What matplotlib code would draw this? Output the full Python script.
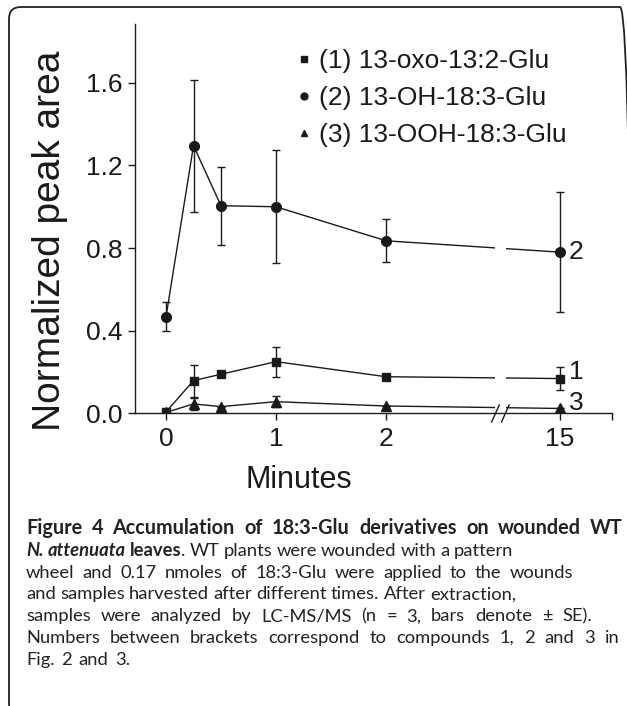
import numpy as np
import matplotlib
matplotlib.use('Agg')
import matplotlib.pyplot as plt
from matplotlib.lines import Line2D
from matplotlib.patches import FancyBboxPatch

plt.rcParams['font.family'] = ['Liberation Sans', 'DejaVu Sans']

# 데이터
minutes = [0, 0.25, 0.5, 1, 2, 15]
tick_minutes = [0, 1, 2, 15]

oxo_mean = [0.005, 0.157, 0.188, 0.249, 0.176, 0.167]
oxo_err = [0.0, 0.077, 0.008, 0.073, 0.008, 0.057]

oh_mean = [0.467, 1.296, 1.005, 1.0, 0.835, 0.78]
oh_err = [0.07, 0.32, 0.19, 0.275, 0.105, 0.29]

ooh_mean = [0.003, 0.044, 0.031, 0.055, 0.034, 0.022]
ooh_err = [0.0, 0.029, 0.0, 0.027, 0.0, 0.0]

labels = ['(1) 13-oxo-13:2-Glu', '(2) 13-OH-18:3-Glu', '(3) 13-OOH-18:3-Glu']

# 캡션: (글자, 스타일) 조각
caption = [
    [('Figure 4 Accumulation of 18:3-Glu derivatives on wounded WT', 'b')],
    [('N. attenuata', 'bi'), (' leaves', 'b'), ('. WT plants were wounded with a pattern', 'r')],
    [('wheel and 0.17 nmoles of 18:3-Glu were applied to the wounds', 'r')],
    [('and samples harvested after different times. After extraction,', 'r')],
    [('samples were analyzed by LC-MS/MS (n = 3, bars denote \u00b1 SE).', 'r')],
    [('Numbers between brackets correspond to compounds 1, 2 and 3 in', 'r')],
    [('Fig. 2 and 3.', 'r')],
]
# 줄 끝 위치(px)
line_ends = [623, 510, 573, 516, 603, 623, 130]

# 축 끊김: 2분 이후는 15분 위치로 압축
brk = 3.04
pos15 = 3.58


def xpos(m):
    return m if m <= 2 else pos15


xs = np.array([xpos(m) for m in minutes])

fig = plt.figure(figsize=(6.27, 7.06), dpi=100)
ax = fig.add_axes([0.2153, 0.415, 0.7608, 0.551])

ink = '#1a1a1a'
common = dict(color=ink, lw=1.0, elinewidth=1.0, capsize=3.2, capthick=1.0)
ax.errorbar(xs, oh_mean, yerr=oh_err, fmt='-o', ms=7, **common)
ax.errorbar(xs, oxo_mean, yerr=oxo_err, fmt='-s', ms=6, **common)
ax.errorbar(xs, ooh_mean, yerr=ooh_err, fmt='-^', ms=7.5, **common)

# 선 끊김 부분
ax.axvspan(brk - 0.05, brk + 0.05, ymin=0.004, ymax=1, color='white', zorder=3, lw=0)
for dx in (-0.045, 0.045):
    ax.plot([brk + dx - 0.035, brk + dx + 0.035], [-0.044, 0.039],
            color=ink, lw=1.0, clip_on=False, zorder=4)

ax.set_xlim(-0.282, 4.055)
ax.set_ylim(0, 1.886)
ax.set_xticks([xpos(m) for m in tick_minutes])
ax.set_xticklabels([str(m) for m in tick_minutes])
ax.set_xticks([4.055], minor=True)
ax.set_yticks([0, 0.4, 0.8, 1.2, 1.6])
ax.set_yticklabels(['0.0', '0.4', '0.8', '1.2', '1.6'])
ax.tick_params(axis='both', which='both', direction='out', length=5, width=1.0,
               colors=ink, labelsize=19)
ax.tick_params(axis='x', pad=5)
ax.tick_params(axis='y', pad=4)
for s in ['top', 'right']:
    ax.spines[s].set_visible(False)
for s in ['left', 'bottom']:
    ax.spines[s].set_linewidth(1.0)
    ax.spines[s].set_color(ink)

# 오른쪽 번호
ax.text(pos15 + 0.08, oh_mean[-1], '2', fontsize=19, va='center', color=ink)
ax.text(pos15 + 0.08, oxo_mean[-1] + 0.032, '1', fontsize=19, va='center', color=ink)
ax.text(pos15 + 0.08, ooh_mean[-1] + 0.026, '3', fontsize=19, va='center', color=ink)

handles = [Line2D([], [], ls='none', marker=m, ms=5, color=ink) for m in ['s', 'o', '^']]
ax.legend(handles, labels, loc='upper left', bbox_to_anchor=(0.313, 0.97),
          frameon=False, fontsize=19, handlelength=0.5, handletextpad=0.3,
          labelspacing=0.5, borderpad=0, labelcolor=ink)

fig.text(50 / 627, 1 - 241 / 706, 'Normalized peak area', rotation=90,
         fontsize=28, ha='center', va='center', color=ink)
fig.text(299 / 627, 1 - 488 / 706, 'Minutes', fontsize=22, ha='center',
         va='baseline', color=ink)

# 캡션: 단어마다 놓고 남는 폭은 단어 간격으로 (조금만)
cap_font = ['Lato', 'DejaVu Sans']
cap_color = '#222222'
title_size = 14.3
cap_size = 13.2
styles = {'r': dict(weight='normal', style='normal'),
          'b': dict(weight='bold', style='normal'),
          'bi': dict(weight='bold', style='italic')}
W = fig.bbox.width
H = fig.bbox.height
r = fig.canvas.get_renderer()


def words_of(segs):
    words = []
    for text, st in segs:
        for k, p in enumerate(text.split(' ')):
            if p == '':
                continue
            if k == 0 and words:
                words[-1].append((p, st))
            else:
                words.append([(p, st)])
    return words


def space_width(size):
    a = fig.text(0, 0, 'a a', family=cap_font, fontsize=size)
    b = fig.text(0, 0, 'aa', family=cap_font, fontsize=size)
    w = a.get_window_extent(r).width - b.get_window_extent(r).width
    a.remove()
    b.remove()
    return w


x_left = 26
y_base = 534
step = 21.8
for i, segs in enumerate(caption):
    size = title_size if i == 0 else cap_size
    y = 1 - (y_base + i * step) / H
    items = []
    for word in words_of(segs):
        items.append([(fig.text(0, y, p, family=cap_font, fontsize=size,
                                color=cap_color, va='baseline', **styles[st]))
                      for p, st in word])
    widths = [[t.get_window_extent(r).width for t in ws] for ws in items]
    total = sum(sum(wl) for wl in widths)
    gaps = len(items) - 1
    sp = space_width(size)
    gap = sp
    if gaps > 0:
        gap = np.clip((line_ends[i] - x_left - total) / gaps, 0.85 * sp, sp + 5)
    x = x_left
    for ws, wl in zip(items, widths):
        for t, w in zip(ws, wl):
            t.set_x(x / W)
            x += w
        x += gap

# 테두리
box = FancyBboxPatch((0.09, -0.1), 6.23, 7.09, boxstyle='round,pad=0,rounding_size=0.12',
                     transform=fig.dpi_scale_trans, fill=False, lw=1.3,
                     edgecolor='#222222')
fig.patches.append(box)

fig.savefig('out.png', dpi=100)
